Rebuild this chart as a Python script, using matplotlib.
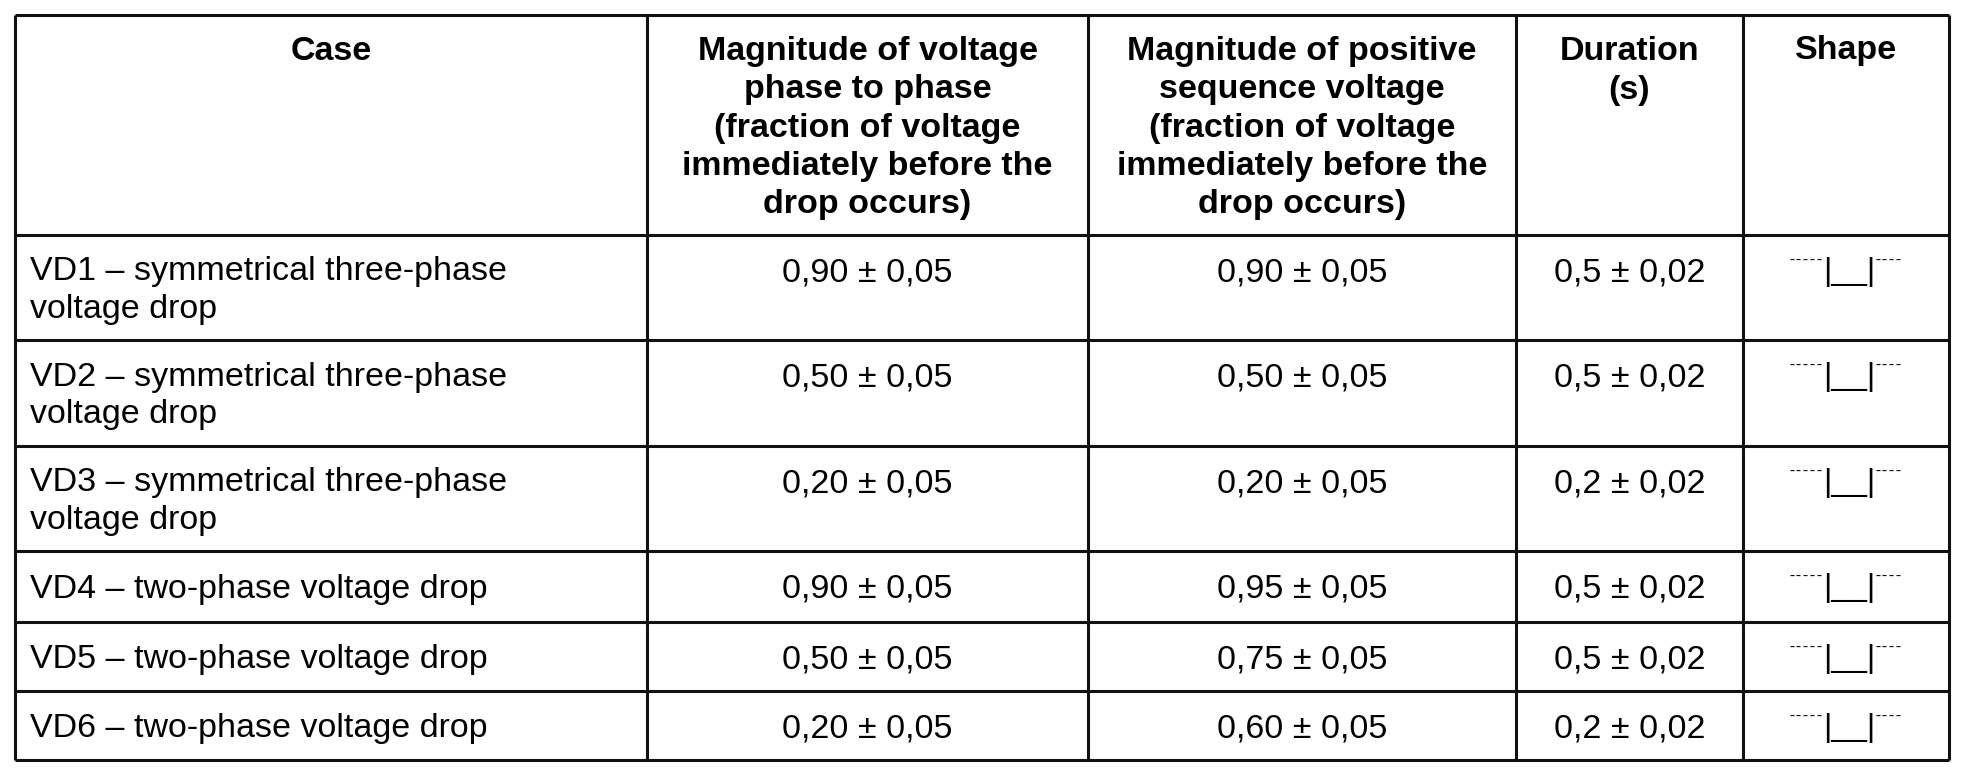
import matplotlib
matplotlib.use("Agg")
import matplotlib.pyplot as plt

# table content
headers = [
    "Case",
    "Magnitude of voltage\nphase to phase\n(fraction of voltage\nimmediately before the\ndrop occurs)",
    "Magnitude of positive\nsequence voltage\n(fraction of voltage\nimmediately before the\ndrop occurs)",
    "Duration\n(s)",
    "Shape",
]
cases = [
    "VD1 – symmetrical three-phase\nvoltage drop",
    "VD2 – symmetrical three-phase\nvoltage drop",
    "VD3 – symmetrical three-phase\nvoltage drop",
    "VD4 – two-phase voltage drop",
    "VD5 – two-phase voltage drop",
    "VD6 – two-phase voltage drop",
]
mag_phase = [0.90, 0.50, 0.20, 0.90, 0.50, 0.20]
mag_positive = [0.90, 0.50, 0.20, 0.95, 0.75, 0.60]
mag_tol = 0.05
duration = [0.5, 0.5, 0.2, 0.5, 0.5, 0.2]
duration_tol = 0.02
shape_left, shape_mid, shape_right = "¯¯¯¯¯", "|__|", "¯¯¯¯"

# layout in pixels
col_edges = [15, 647, 1088, 1516, 1743, 1949]
row_edges = [15, 235, 340, 446, 551, 622, 691, 760]


def fmt(v, tol, nd):
    return f"{v:.{nd}f}".replace(".", ",") + " ± " + f"{tol:.2f}".replace(".", ",")


fig = plt.figure(figsize=(19.7, 7.82), dpi=100)
ax = fig.add_axes([0, 0, 1, 1])
ax.set_xlim(0, 1970)
ax.set_ylim(782, 0)
ax.axis("off")

lw = 2.2
color = "#111111"
ax.hlines(row_edges, col_edges[0], col_edges[-1], colors=color, linewidth=lw)
ax.vlines(col_edges, row_edges[0], row_edges[-1], colors=color, linewidth=lw)

body = dict(family="Liberation Sans", fontsize=24.5, color="black")
head = dict(family="Liberation Sans", fontsize=24.5, fontweight="bold", color="black")

# header row
for j, h in enumerate(headers):
    cx = (col_edges[j] + col_edges[j + 1]) / 2
    cy = (row_edges[0] + row_edges[1]) / 2 + 3
    if h.count("\n") == 0:
        cy = row_edges[0] + 36
    elif h.count("\n") == 1:
        cy = row_edges[0] + 56
    ax.text(cx, cy, h, ha="center", va="center", linespacing=1.31, **head)

# body rows
for i in range(len(cases)):
    top, bot = row_edges[i + 1], row_edges[i + 2]
    first = top + 38
    ax.text(col_edges[0] + 15, (top + bot) / 2 + 3, cases[i], ha="left", va="center",
            linespacing=1.27, **body)
    values = [fmt(mag_phase[i], mag_tol, 2), fmt(mag_positive[i], mag_tol, 2),
              fmt(duration[i], duration_tol, 1)]
    for j, v in enumerate(values, start=1):
        cx = (col_edges[j] + col_edges[j + 1]) / 2
        ax.text(cx, first, v, ha="center", va="center", **body)

    # shape glyphs
    cx = (col_edges[4] + col_edges[5]) / 2
    base = top + 45
    ax.text(cx + 3, base, shape_mid, ha="center", va="baseline",
            family="Liberation Sans", fontsize=23, color="black")
    ax.text(cx + 3 - 26, top + 36, shape_left, ha="right", va="baseline",
            family="DejaVu Sans", fontsize=10, color="black")
    ax.text(cx + 3 + 26, top + 36, shape_right, ha="left", va="baseline",
            family="DejaVu Sans", fontsize=10, color="black")

fig.savefig("out.png", dpi=100, facecolor="white")
